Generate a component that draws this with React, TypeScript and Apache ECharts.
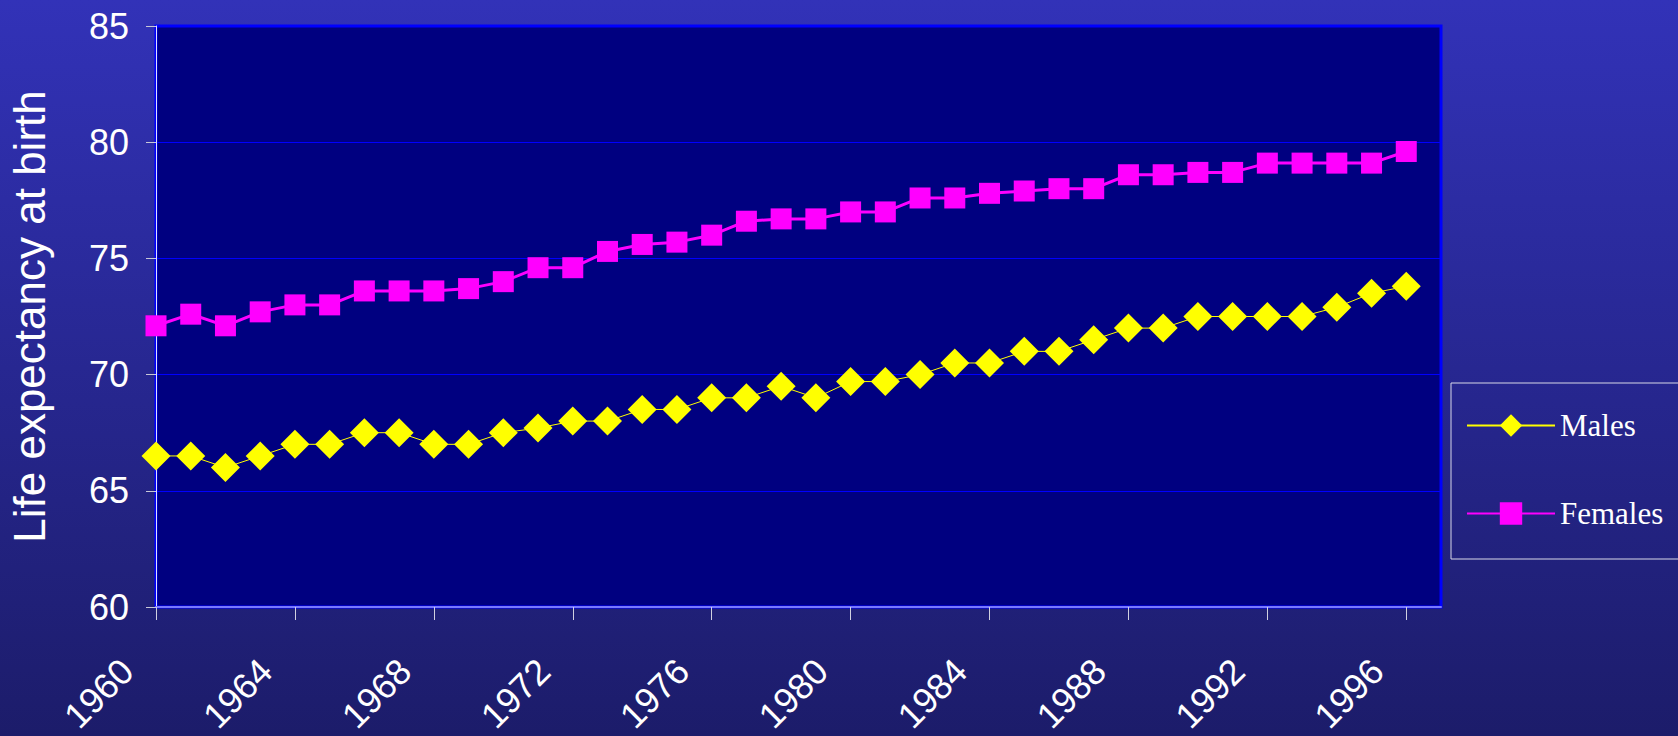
import React, { useEffect, useRef } from "react";
import * as echarts from "echarts";

const years = [
  "1960", "1961", "1962", "1963", "1964", "1965", "1966", "1967", "1968", "1969",
  "1970", "1971", "1972", "1973", "1974", "1975", "1976", "1977", "1978", "1979",
  "1980", "1981", "1982", "1983", "1984", "1985", "1986", "1987", "1988", "1989",
  "1990", "1991", "1992", "1993", "1994", "1995", "1996", "1997",
];

const males = [
  66.5, 66.5, 66.0, 66.5, 67.0, 67.0, 67.5, 67.5, 67.0, 67.0,
  67.5, 67.7, 68.0, 68.0, 68.5, 68.5, 69.0, 69.0, 69.5, 69.0,
  69.7, 69.7, 70.0, 70.5, 70.5, 71.0, 71.0, 71.5, 72.0, 72.0,
  72.5, 72.5, 72.5, 72.5, 72.9, 73.5, 73.8,
];

const females = [
  72.1, 72.6, 72.1, 72.7, 73.0, 73.0, 73.6, 73.6, 73.6, 73.7,
  74.0, 74.6, 74.6, 75.3, 75.6, 75.7, 76.0, 76.6, 76.7, 76.7,
  77.0, 77.0, 77.6, 77.6, 77.8, 77.9, 78.0, 78.0, 78.6, 78.6,
  78.7, 78.7, 79.1, 79.1, 79.1, 79.1, 79.6,
];

const yMin = 60;
const yMax = 85;
const yStep = 5;

const sans = "'Liberation Sans', Arial, Helvetica, sans-serif";
const serif = "'Liberation Serif', 'Times New Roman', serif";

export default function App() {
  const ref = useRef<HTMLDivElement>(null);

  useEffect(() => {
    if (!ref.current) return;
    const chart = echarts.init(ref.current, null, { renderer: "svg" });
    chart.setOption({
      animation: false,
      backgroundColor: new echarts.graphic.LinearGradient(0, 0, 0, 1, [
        { offset: 0, color: "#3232b8" },
        { offset: 1, color: "#1c1c6a" },
      ]),
      grid: {
        left: 156,
        top: 26,
        width: 1285,
        height: 581,
        show: true,
        backgroundColor: "#000080",
        borderColor: "#0000ff",
        borderWidth: 3,
        containLabel: false,
        outerBoundsMode: "none",
      },
      legend: {
        orient: "vertical",
        left: 1451,
        top: 383,
        itemWidth: 88,
        itemHeight: 28,
        itemGap: 57,
        padding: [27, 40, 30, 15],
        borderColor: "#d8d8e8",
        borderWidth: 1,
        textStyle: { color: "#ffffff", fontFamily: serif, fontSize: 31, lineHeight: 28 },
        data: ["Males", "Females"],
      },
      xAxis: {
        type: "category",
        data: years,
        boundaryGap: false,
        axisLine: { show: true, lineStyle: { color: "#7878ff", width: 2 } },
        axisTick: {
          show: true,
          interval: 3,
          length: 13,
          lineStyle: { color: "#d0d0e0", width: 1 },
        },
        axisLabel: {
          interval: 3,
          rotate: 45,
          margin: 29,
          padding: [0, 41, 0, 0],
          color: "#ffffff",
          fontFamily: sans,
          fontSize: 36,
        },
        splitLine: { show: false },
      },
      yAxis: {
        type: "value",
        min: yMin,
        max: yMax,
        interval: yStep,
        name: "Life expectancy at birth",
        nameLocation: "middle",
        nameGap: 105,
        nameTextStyle: { color: "#ffffff", fontFamily: sans, fontSize: 44 },
        axisLine: { show: true, lineStyle: { color: "#e0e0ff", width: 1 } },
        axisTick: { show: true, length: 10, lineStyle: { color: "#c8c8d8", width: 1 } },
        axisLabel: { color: "#ffffff", fontFamily: sans, fontSize: 36, margin: 27 },
        splitLine: { show: true, lineStyle: { color: "#0000ff", width: 1 } },
      },
      series: [
        {
          name: "Males",
          type: "line",
          data: males,
          symbol: "diamond",
          symbolSize: 29,
          showSymbol: true,
          showAllSymbol: true,
          itemStyle: { color: "#ffff00" },
          lineStyle: { color: "#ffff00", width: 1 },
          z: 3,
        },
        {
          name: "Females",
          type: "line",
          data: females,
          symbol: "rect",
          symbolSize: 21,
          showSymbol: true,
          showAllSymbol: true,
          itemStyle: { color: "#ff00ff" },
          lineStyle: { color: "#ff00ff", width: 3 },
          z: 2,
        },
      ],
    });
    return () => chart.dispose();
  }, []);

  return (
    <div
      ref={ref}
      style={{ position: "fixed", left: 0, top: 0, width: 1678, height: 736 }}
    />
  );
}
